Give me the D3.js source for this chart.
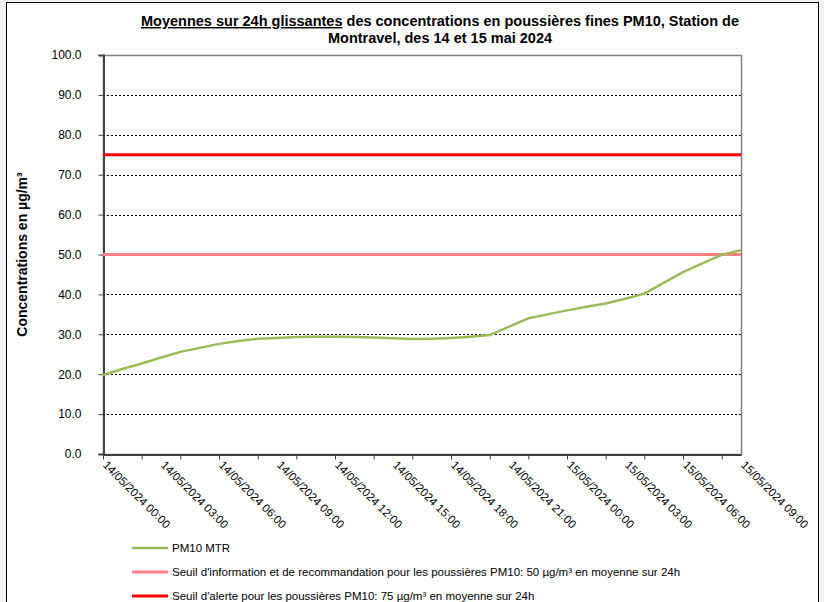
<!DOCTYPE html>
<html><head><meta charset="utf-8">
<script src="https://cdn.jsdelivr.net/npm/d3@7"></script>
<style>
html,body{margin:0;padding:0;background:#fff;}
svg{display:block;font-family:"Liberation Sans",Arial,sans-serif;}
</style></head>
<body>
<svg id="c" width="824" height="602"></svg>
<script>
// ---- data ----
const hours = d3.range(0, 34); // hourly categories from 14/05/2024 00:00 to 15/05/2024 09:00
const categories = hours.map(h => {
  const day = h < 24 ? "14" : "15";
  const hh = String(h % 24).padStart(2, "0");
  return `${day}/05/2024 ${hh}:00`;
});
const pm10 = [19.8,21.3,22.7,24.2,25.6,26.6,27.6,28.3,28.9,29.1,29.3,29.4,29.4,29.3,29.2,29.0,28.8,28.9,29.1,29.4,
              29.8,31.9,34.0,35.0,36.0,36.9,37.7,38.9,40.2,42.9,45.6,47.8,49.9,51.1];
const thresholdInfo = 50;
const thresholdAlert = 75;
const yTicks = [0,10,20,30,40,50,60,70,80,90,100];
const labelEvery = 3, tickEvery = 2;
const legendLabels = [
  "PM10 MTR",
  "Seuil d'information et de recommandation pour les poussières PM10: 50 µg/m³ en moyenne sur 24h",
  "Seuil d'alerte pour les poussières PM10: 75 µg/m³ en moyenne sur 24h"
];
const colors = ["#9bbb59", "#ff8080", "#ff0000"];

// ---- layout ----
const svg = d3.select("#c");
const L = 103, R = 741, T = 55, B = 454;
const x = d3.scaleLinear().domain([0, categories.length - 1]).range([L, R]);
const y = d3.scaleLinear().domain([0, 100]).range([B, T]);

// outer background and frame
svg.append("rect").attr("x",0).attr("y",0).attr("width",824).attr("height",602).attr("fill","#f2f2f2");
svg.append("rect").attr("x",6.5).attr("y",2.5).attr("width",812).attr("height",640)
  .attr("fill","#fff").attr("stroke","#000").attr("stroke-width",1);

// gridlines
svg.append("g").selectAll("line").data(yTicks.filter(v => v > 0 && v < 100)).join("line")
  .attr("x1", L).attr("x2", R).attr("y1", d => Math.round(y(d)) + 0.5).attr("y2", d => Math.round(y(d)) + 0.5)
  .attr("stroke", "#000").attr("stroke-width", 1).attr("stroke-dasharray", "2,2");

// plot border
svg.append("rect").attr("x", L + 0.5).attr("y", T + 0.5).attr("width", R - L).attr("height", B - T)
  .attr("fill", "none").attr("stroke", "#808080").attr("stroke-width", 1.5);

// y axis
const yAxis = d3.axisLeft(y).tickValues(yTicks).tickFormat(d3.format(".1f")).tickSize(5).tickPadding(17);
const gy = svg.append("g").attr("transform", `translate(${L + 0.5},0)`).call(yAxis);
gy.select(".domain").attr("stroke", "#404040").attr("stroke-width", 2);
gy.selectAll(".tick line").attr("stroke", "#404040");
gy.selectAll(".tick text").attr("font-size", 12).attr("fill", "#000")
  .attr("font-family", '"Liberation Sans",Arial,sans-serif');

// x axis
const xAxis = d3.axisBottom(x).tickValues(hours.filter(h => h % tickEvery === 0)).tickFormat("").tickSize(5).tickSizeOuter(0);
const gx = svg.append("g").attr("transform", `translate(0,${B + 0.5})`).call(xAxis);
gx.select(".domain").attr("stroke", "#404040").attr("stroke-width", 2);
gx.selectAll(".tick line").attr("stroke", "#404040");

svg.append("g").selectAll("text").data(hours.filter(h => h % labelEvery === 0)).join("text")
  .attr("transform", d => `translate(${x(d) + 2},${B + 9}) rotate(45)`)
  .attr("font-size", 11.5).attr("fill", "#000").attr("text-anchor", "start")
  .attr("dy", "0.35em")
  .text(d => categories[d]);

// threshold lines
[thresholdInfo, thresholdAlert].forEach((v, i) => {
  const data = categories.map((c, k) => ({k, v}));
  svg.append("path").datum(data)
    .attr("d", d3.line().x(d => x(d.k)).y(d => y(d.v)))
    .attr("fill", "none").attr("stroke", colors[i + 1]).attr("stroke-width", 3);
});

// PM10 line
svg.append("path").datum(pm10)
  .attr("d", d3.line().x((d, i) => x(i)).y(d => y(d)))
  .attr("fill", "none").attr("stroke", colors[0]).attr("stroke-width", 2.5).attr("stroke-linejoin", "round");

// title
const title = svg.append("text").attr("x", 440).attr("y", 26).attr("text-anchor", "middle")
  .attr("font-size", 14.5).attr("font-weight", "bold");
title.append("tspan").attr("text-decoration", "underline").text("Moyennes sur 24h glissantes");
title.append("tspan").text(" des concentrations en poussières fines PM10, Station de");
svg.append("text").attr("x", 440).attr("y", 43).attr("text-anchor", "middle")
  .attr("font-size", 14.5).attr("font-weight", "bold").text("Montravel, des 14 et 15 mai 2024");

// y title
svg.append("text").attr("transform", `translate(27,${(T + B) / 2}) rotate(-90)`)
  .attr("text-anchor", "middle").attr("font-size", 14).attr("font-weight", "bold")
  .text("Concentrations en µg/m³");

// legend
const lg = svg.append("g");
legendLabels.forEach((t, i) => {
  const yy = 548 + i * 24;
  lg.append("line").attr("x1", 132).attr("x2", 168).attr("y1", yy).attr("y2", yy)
    .attr("stroke", colors[i]).attr("stroke-width", i === 0 ? 2.5 : 3);
  lg.append("text").attr("x", 172).attr("y", yy).attr("dy", "0.35em")
    .attr("font-size", 11.5).text(t);
});
</script>
</body></html>
